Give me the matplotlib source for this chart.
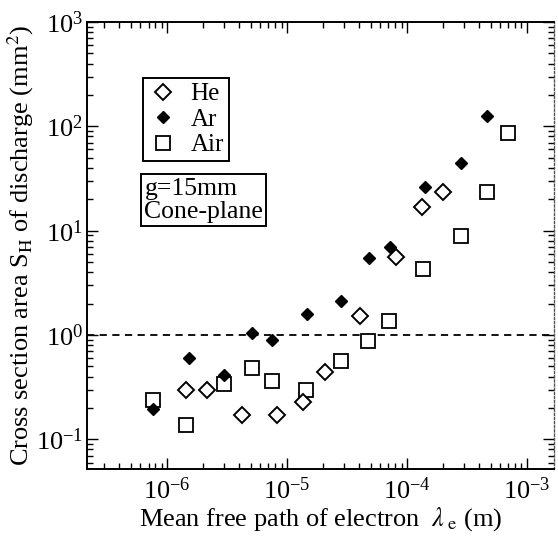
import matplotlib
matplotlib.use("Agg")
import matplotlib.pyplot as plt
from matplotlib.ticker import LogLocator, NullFormatter

plt.rcParams['font.family'] = ['Liberation Serif', 'DejaVu Serif']
plt.rcParams['mathtext.fontset'] = 'stix'
plt.rcParams['axes.unicode_minus'] = False

# data (x: mean free path in m, y: area in mm^2)
he_x = [1.44e-6, 2.15e-6, 4.2e-6, 8.3e-6, 1.36e-5, 2.07e-5, 4.06e-5, 8.1e-5, 1.33e-4, 2.0e-4]
he_y = [0.30, 0.30, 0.17, 0.17, 0.23, 0.44, 1.52, 5.6, 17.0, 23.7]

ar_x = [7.6e-7, 1.52e-6, 2.98e-6, 5.1e-6, 7.5e-6, 1.47e-5, 2.82e-5, 4.8e-5, 7.2e-5,
        1.41e-4, 2.82e-4, 4.64e-4]
ar_y = [0.195, 0.60, 0.41, 1.045, 0.90, 1.59, 2.12, 5.5, 7.0, 26.5, 45.0, 125.0]

air_x = [7.6e-7, 1.44e-6, 2.98e-6, 5.1e-6, 7.5e-6, 1.44e-5, 2.82e-5, 4.73e-5, 7.08e-5,
         1.36e-4, 2.82e-4, 4.64e-4, 6.95e-4]
air_y = [0.24, 0.136, 0.34, 0.48, 0.36, 0.30, 0.56, 0.875, 1.36, 4.3, 8.9, 23.7, 85.7]

ref_level = 1.0

fig = plt.figure(figsize=(5.58, 5.38), dpi=100)
ax = fig.add_axes([87 / 558, 1 - 469 / 538, 467 / 558, 447 / 538])

ax.set_xscale('log')
ax.set_yscale('log')
ax.set_xlim(2.15e-7, 1.68e-3)
ax.set_ylim(0.052, 1000)

ax.axhline(ref_level, color='k', lw=1.3, ls=(0, (4, 3)), zorder=1)

ax.plot(he_x, he_y, ls='none', marker='D', ms=7.8, mfc='white', mec='k', mew=1.4,
        label='He', zorder=3)
ax.plot(ar_x, ar_y, ls='none', marker='D', ms=6.5, mfc='k', mec='k', mew=1.0,
        label='Ar', zorder=3)
ax.plot(air_x, air_y, ls='none', marker='s', ms=9.5, mfc='white', mec='k', mew=1.3,
        label='Air', zorder=2)

ax.xaxis.set_major_locator(LogLocator(base=10, numticks=20))
ax.xaxis.set_minor_locator(LogLocator(base=10, subs=range(2, 10), numticks=20))
ax.xaxis.set_minor_formatter(NullFormatter())
ax.yaxis.set_minor_locator(LogLocator(base=10, subs=range(2, 10), numticks=20))
ax.yaxis.set_minor_formatter(NullFormatter())

ax.tick_params(which='both', direction='in', top=True, right=True, width=1.0)
ax.tick_params(which='major', length=8, labelsize=19)
ax.tick_params(axis='x', which='major', pad=6)
ax.tick_params(axis='y', which='major', pad=3)
ax.tick_params(which='minor', length=4)

for side in ['left', 'bottom', 'top']:
    ax.spines[side].set_linewidth(1.4)
ax.spines['right'].set_linewidth(1.0)
ax.spines['right'].set_color('#555555')
ax.spines['right'].set_linestyle((0, (1.5, 1.5)))

ax.set_xlabel(r'Mean free path of electron  $\lambda_{\;\mathrm{e}}$ (m)', fontsize=19, labelpad=1)
ax.set_ylabel(r'Cross section area S$_{\mathrm{H}}$ of discharge (mm$^2$)', fontsize=19, labelpad=0)

leg = ax.legend(loc='upper left', bbox_to_anchor=(0.12, 0.875), fontsize=18, frameon=True,
                fancybox=False, edgecolor='k', framealpha=1, borderpad=0.2,
                handletextpad=0.5, labelspacing=0.12, handlelength=1.2, borderaxespad=0)
leg.get_frame().set_linewidth(1.4)

ax.text(0.123, 0.652, 'g=15mm\nCone-plane', transform=ax.transAxes, fontsize=18.5,
        ha='left', va='top', linespacing=1.1,
        bbox=dict(boxstyle='square,pad=0.12', fc='white', ec='k', lw=1.4))

fig.savefig('out.png', dpi=100)
